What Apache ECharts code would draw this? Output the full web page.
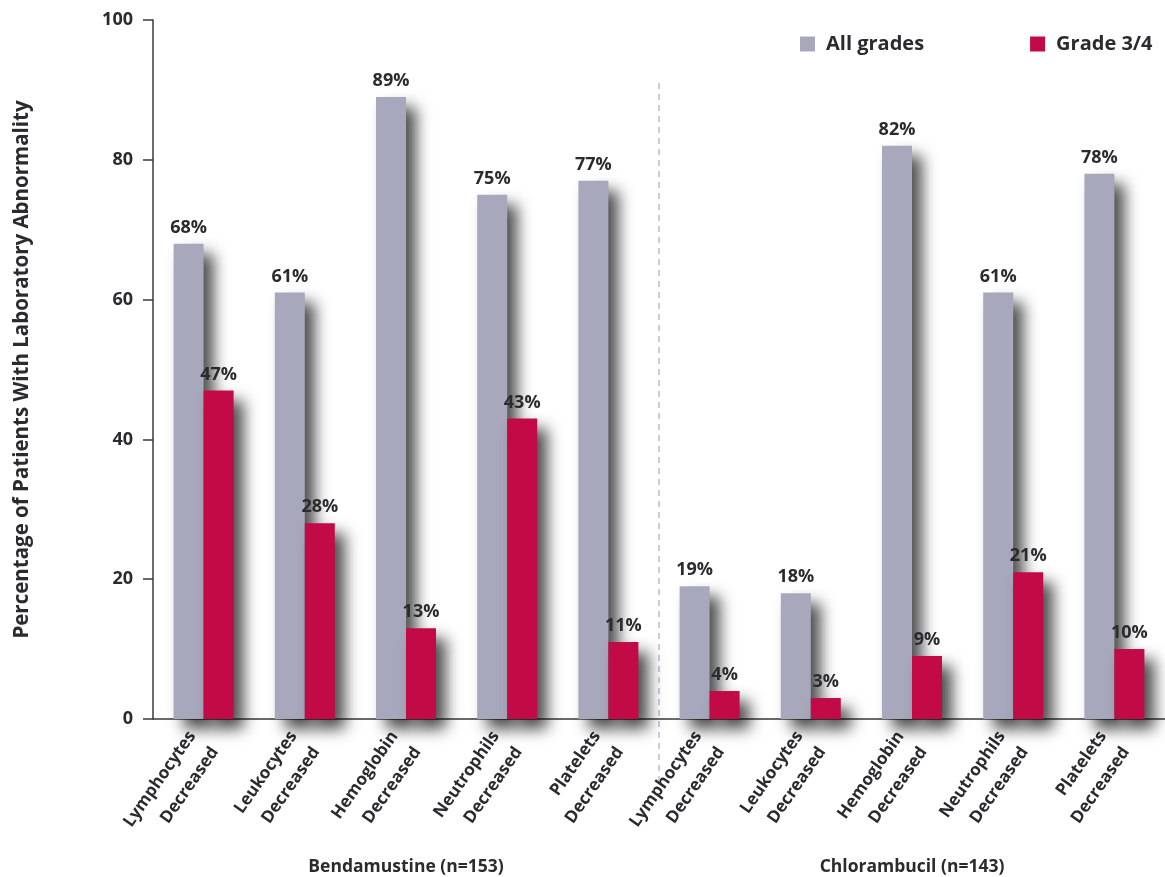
<!DOCTYPE html>
<html>
<head>
<meta charset="utf-8">
<script src="https://cdn.jsdelivr.net/npm/echarts@6/dist/echarts.min.js"></script>
<style>
  html, body { margin: 0; padding: 0; background: #fff; }
  #chart { width: 1165px; height: 877px; }
</style>
</head>
<body>
<div id="chart"></div>
<script>
// categories (two groups of five lab tests)
const categories = [
  'Lymphocytes\nDecreased', 'Leukocytes\nDecreased', 'Hemoglobin\nDecreased',
  'Neutrophils\nDecreased', 'Platelets\nDecreased',
  'Lymphocytes\nDecreased', 'Leukocytes\nDecreased', 'Hemoglobin\nDecreased',
  'Neutrophils\nDecreased', 'Platelets\nDecreased',
];
const groups = ['Bendamustine (n=153)', 'Chlorambucil (n=143)'];
const allGrades = [68, 61, 89, 75, 77, 19, 18, 82, 61, 78];
const grade34 = [47, 28, 13, 43, 11, 4, 3, 9, 21, 10];
const yTicks = { min: 0, max: 100, interval: 20 };

const FONT = "'Open Sans', sans-serif";
const TXT = '#2b2a2e';

const chart = echarts.init(document.getElementById('chart'));

const shadow = {
  shadowColor: 'rgba(0,0,0,0.7)',
  shadowBlur: 15,
  shadowOffsetX: 10,
  shadowOffsetY: 10,
};

const barLabel = {
  show: true,
  position: 'top',
  distance: 7,
  formatter: '{c}%',
  fontFamily: FONT,
  fontWeight: 'bold',
  fontSize: 18,
  color: TXT,
};

const option = {
  animation: false,
  backgroundColor: '#fff',
  textStyle: { fontFamily: FONT },
  grid: { left: 153, right: 0, top: 20, bottom: 158, outerBoundsMode: 'none', containLabel: false },
  legend: {
    top: 29,
    left: 795,
    itemWidth: 15,
    itemHeight: 15,
    itemGap: 106,
    icon: 'rect',
    textStyle: { fontFamily: FONT, fontWeight: 'bold', fontSize: 20, color: TXT, padding: [0, 0, 0, 6] },
    data: ['All grades', 'Grade 3/4'],
  },
  xAxis: [
    {
      type: 'category',
      data: categories,
      axisLine: { lineStyle: { color: '#3a3a3a', width: 1.5 } },
      axisTick: { length: 9, lineStyle: { color: '#3a3a3a', width: 1.5 } },
      axisLabel: {
        rotate: 55,
        interval: 0,
        margin: 22,
        fontFamily: FONT,
        fontWeight: 'bold',
        fontSize: 17,
        lineHeight: 28,
        color: TXT,
      },
    },
    {
      type: 'category',
      data: groups,
      position: 'bottom',
      offset: 131,
      axisLine: { show: false },
      axisTick: { show: false },
      axisLabel: {
        fontFamily: FONT,
        fontWeight: 'bold',
        fontSize: 17.5,
        color: TXT,
      },
    },
  ],
  yAxis: {
    type: 'value',
    min: yTicks.min,
    max: yTicks.max,
    interval: yTicks.interval,
    name: 'Percentage of Patients With Laboratory Abnormality',
    nameLocation: 'middle',
    nameGap: 120,
    nameTextStyle: { fontFamily: FONT, fontWeight: 'bold', fontSize: 20.5, color: TXT },
    splitLine: { show: false },
    axisLine: { show: true, lineStyle: { color: '#3a3a3a', width: 1.5 } },
    axisTick: { show: true, length: 10, lineStyle: { color: '#3a3a3a', width: 1.5 } },
    axisLabel: {
      margin: 20,
      fontFamily: FONT,
      fontWeight: 'bold',
      fontSize: 18,
      color: TXT,
    },
  },
  series: [
    {
      name: 'All grades',
      type: 'bar',
      data: allGrades,
      barWidth: 30,
      barGap: '0%',
      itemStyle: Object.assign({ color: '#a8a8bd' }, shadow),
      label: barLabel,
    },
    {
      name: 'Grade 3/4',
      type: 'bar',
      data: grade34,
      barWidth: 30,
      barGap: '0%',
      itemStyle: Object.assign({ color: '#c10a46' }, shadow),
      label: barLabel,
    },
  ],
};

chart.setOption(option);

// dashed divider between the two drug groups
const xa = chart.convertToPixel({ xAxisIndex: 0 }, 4);
const xb = chart.convertToPixel({ xAxisIndex: 0 }, 5);
const xMid = (xa + xb) / 2;
const yTop = chart.convertToPixel({ yAxisIndex: 0 }, 91);
const yZero = chart.convertToPixel({ yAxisIndex: 0 }, 0);
chart.setOption({
  graphic: [{
    type: 'line',
    shape: { x1: xMid, y1: yTop, x2: xMid, y2: yZero + 65 },
    style: { stroke: '#a9a9c8', lineWidth: 1.2, lineDash: [6, 5] },
    z: 0,
  }],
});
</script>
</body>
</html>
